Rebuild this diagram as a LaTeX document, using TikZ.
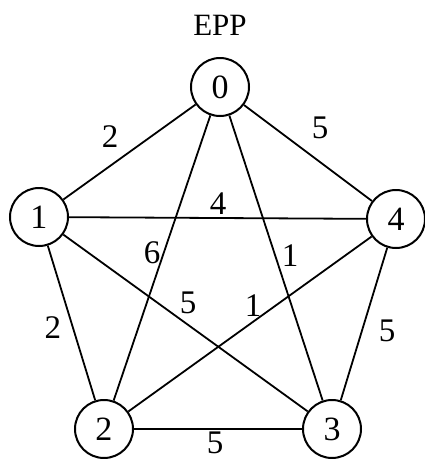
\documentclass[tikz,border=0pt]{standalone}
\usepackage{fontspec}
\setmainfont{Liberation Serif}
\begin{document}
\begin{tikzpicture}[x=1pt,y=-1pt,
  vert/.style={circle,draw,line width=2pt,minimum size=58pt,inner sep=0pt,font=\fontsize{34}{34}\selectfont},
  edge/.style={line width=1.8pt},
  wlab/.style={font=\fontsize{33}{33}\selectfont,inner sep=0pt}]
\useasboundingbox (0,0) rectangle (425,459);
\node[font=\fontsize{31}{31}\selectfont] (title) at (220,25) {EPP};
\node[vert] (n0) at (220,87) {0};
\node[vert] (n1) at (39,217) {1};
\node[vert] (n4) at (396,219) {4};
\node[vert] (n2) at (104,429) {2};
\node[vert] (n3) at (332,429) {3};
\draw[edge] (n0) -- (n1);
\draw[edge] (n0) -- (n4);
\draw[edge] (n0) -- (n2);
\draw[edge] (n0) -- (n3);
\draw[edge] (n1) -- (n4);
\draw[edge] (n1) -- (n2);
\draw[edge] (n1) -- (n3);
\draw[edge] (n4) -- (n2);
\draw[edge] (n4) -- (n3);
\draw[edge] (n2) -- (n3);
\node[wlab] (l01) at (110,137) {2};
\node[wlab] (l04) at (320,128) {5};
\node[wlab] (l14) at (218,204) {4};
\node[wlab] (l02) at (152,253) {6};
\node[wlab] (l03) at (290,256) {1};
\node[wlab] (l13) at (188,303) {5};
\node[wlab] (l24) at (253,306) {1};
\node[wlab] (l12) at (53,328) {2};
\node[wlab] (l34) at (387,331) {5};
\node[wlab] (l23) at (215,443) {5};
\end{tikzpicture}
\end{document}
